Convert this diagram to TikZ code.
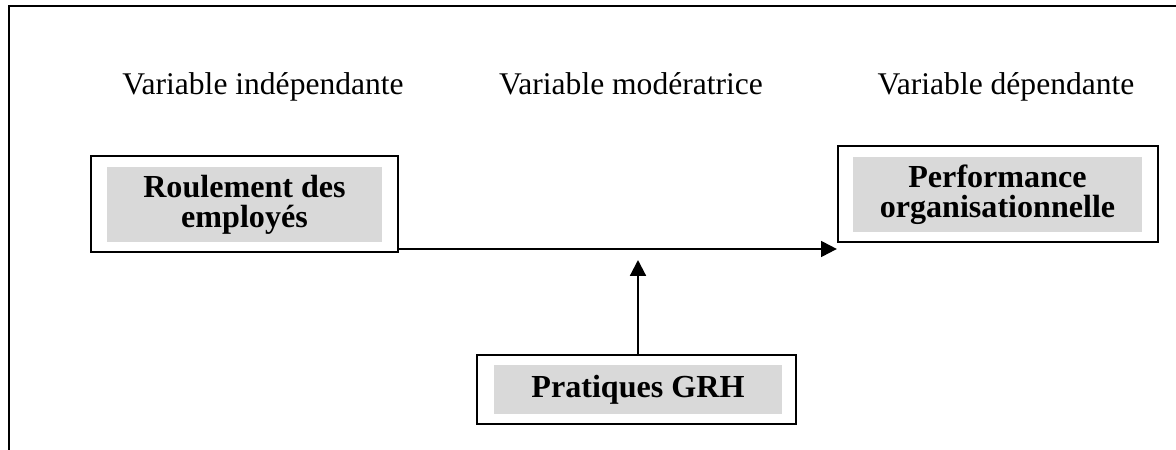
\documentclass[tikz,border=0pt]{standalone}
\usepackage{fontspec}
\setmainfont{Liberation Serif}
\usepackage{tikz}
\usetikzlibrary{arrows.meta,positioning}
\definecolor{grisfond}{RGB}{217,217,217}

\begin{document}
\begin{tikzpicture}[x=0.38pt, y=-0.38pt, font=\fontsize{12}{14}\selectfont,
    titre/.style={inner sep=0pt, anchor=base},
    cadre/.style={draw, line width=0.85pt, inner sep=0pt},
    fond/.style={fill=grisfond, inner sep=0pt, align=center, font=\fontsize{12.2}{11.5}\selectfont\bfseries},
    fleche/.style={line width=0.8pt, -{Triangle[length=6pt,width=6pt]}}]
    \useasboundingbox (0,0) rectangle (1176,450);

    % Cadre
    \draw[line width=1pt] (9,450) -- (9,6) -- (1176,6);

    % Titres
    \node[titre] (vi) at (263,95) {Variable indépendante};
    \node[titre] (vm) at (631,95) {Variable modératrice};
    \node[titre] (vd) at (1006,95) {Variable dépendante};

    % Variables
    \node[cadre, minimum width=116.7pt, minimum height=36.5pt] (roul) at (244.5,204) {};
    \node[fond, minimum width=104.5pt, minimum height=28.5pt] (roultxt) at (244.5,204.5) {Roulement des\\employés};

    \node[cadre, minimum width=121.6pt, minimum height=36.5pt] (perf) at (998,194) {};
    \node[fond, minimum width=109.8pt, minimum height=28.5pt] (perftxt) at (997.5,194.5) {Performance\\organisationnelle};

    \node[cadre, minimum width=121.2pt, minimum height=26.2pt] (prat) at (636.5,389.5) {};
    \node[fond, minimum width=109.4pt, minimum height=18.6pt] (pratxt) at (638,389.5) {Pratiques GRH};

    % Liens
    \coordinate (lien) at (638,249);
    \coordinate (cible) at (638,260);
    \draw[fleche] (roul.east |- lien) -- (perf.west |- lien);
    \draw[fleche] (prat.north -| cible) -- (cible);
\end{tikzpicture}
\end{document}
